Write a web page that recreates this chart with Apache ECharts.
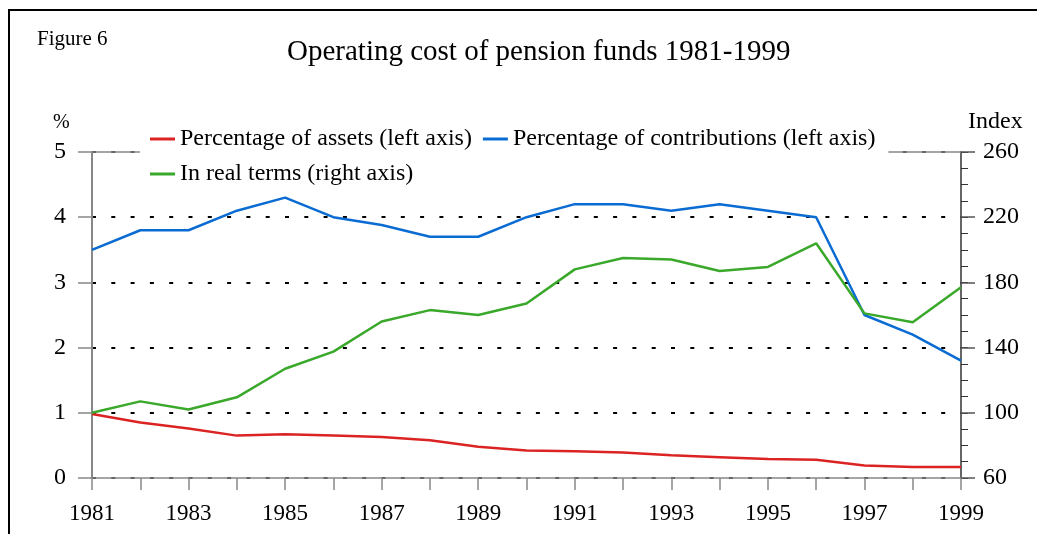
<!DOCTYPE html>
<html>
<head>
<meta charset="utf-8">
<script src="https://cdn.jsdelivr.net/npm/echarts@6/dist/echarts.min.js"></script>
<style>
  html, body { margin: 0; padding: 0; background: #fff; }
  #chart { width: 1037px; height: 534px; }
</style>
</head>
<body>
<div id="chart"></div>
<script>
// years on the x axis
var years = ['1981', '1982', '1983', '1984', '1985', '1986', '1987', '1988', '1989', '1990',
  '1991', '1992', '1993', '1994', '1995', '1996', '1997', '1998', '1999'];
// % of assets (left axis)
var pctAssets = [0.98, 0.85, 0.76, 0.65, 0.67, 0.65, 0.63, 0.58, 0.48, 0.42,
  0.41, 0.39, 0.35, 0.32, 0.29, 0.28, 0.19, 0.17, 0.17];
// % of contributions (left axis)
var pctContrib = [3.5, 3.8, 3.8, 4.1, 4.3, 4.0, 3.88, 3.7, 3.7, 4.0,
  4.2, 4.2, 4.1, 4.2, 4.1, 4.0, 2.5, 2.2, 1.8];
// index, real terms (right axis)
var realIndex = [100, 107, 102, 109.5, 127, 137.5, 156, 163, 160, 167,
  188, 195, 194, 187, 189.5, 204, 161, 155.5, 177];
// right axis tick marks
var indexLabels = [60, 100, 140, 180, 220, 260];
var indexMinor = [];
for (var v = 60; v <= 260; v += 10) indexMinor.push(v);

var font = "'Liberation Serif', 'Times New Roman', serif";

var chart = echarts.init(document.getElementById('chart'));

var option = {
  animation: false,
  textStyle: { fontFamily: font, color: '#000' },
  title: {
    text: 'Operating cost of pension funds 1981-1999',
    left: 282,
    top: 33,
    textStyle: { fontFamily: font, fontSize: 29, fontWeight: 'normal', color: '#000' }
  },
  graphic: [
    {
      type: 'rect', z: -10, silent: true,
      shape: { x: 9, y: 10, width: 1200, height: 700 },
      style: { fill: null, stroke: '#000', lineWidth: 2 }
    },
    { type: 'text', left: 37, top: 29, style: { text: 'Figure 6', font: '21px ' + font, fill: '#000' } },
    { type: 'text', left: 53, top: 113, style: { text: '%', font: '20px ' + font, fill: '#000' } },
    { type: 'text', left: 968, top: 110, style: { text: 'Index', font: '24px ' + font, fill: '#000' } }
  ],
  legend: {
    left: 140,
    top: 125,
    width: 740,
    padding: [2, 13, 6, 10],
    itemGap: 11,
    itemWidth: 25,
    itemHeight: 3,
    icon: 'rect',
    backgroundColor: '#fff',
    z: 20,
    textStyle: { fontFamily: font, fontSize: 24, color: '#000', lineHeight: 24 },
    data: ['Percentage of assets (left axis)', 'Percentage of contributions (left axis)', 'In real terms (right axis)']
  },
  grid: { left: 92, right: 76, top: 152, bottom: 56 },
  xAxis: [
    {
      type: 'category',
      data: years,
      boundaryGap: false,
      axisLine: { lineStyle: { color: '#888', width: 1.5 } },
      axisTick: { show: true, interval: 0, length: 12, lineStyle: { color: '#888', width: 1.5 } },
      axisLabel: { interval: 1, margin: 24, fontSize: 23, fontFamily: font, color: '#000' },
      splitLine: { show: false }
    },
    {
      type: 'category',
      data: years,
      position: 'top',
      boundaryGap: false,
      axisLine: { lineStyle: { color: '#888', width: 1.5 } },
      axisTick: { show: false },
      axisLabel: { show: false },
      splitLine: { show: false }
    }
  ],
  yAxis: [
    {
      type: 'value',
      min: 0, max: 5, interval: 1,
      axisLine: { show: true, lineStyle: { color: '#888', width: 2 } },
      axisTick: { show: true, length: 14, lineStyle: { color: '#888', width: 1.5 } },
      axisLabel: { margin: 26, fontSize: 24, fontFamily: font, color: '#000' },
      splitLine: { show: true, lineStyle: { color: '#000', width: 2, type: [4, 15.3] } }
    },
    {
      type: 'value',
      position: 'right',
      min: 60, max: 260,
      axisLine: { show: true, lineStyle: { color: '#333', width: 1.5 } },
      axisTick: { show: true, customValues: indexMinor, length: 7, lineStyle: { color: '#333', width: 1 } },
      axisLabel: { customValues: indexLabels, margin: 22, fontSize: 24, fontFamily: font, color: '#000' },
      splitLine: { show: false }
    },
    {
      type: 'value',
      position: 'right',
      min: 60, max: 260,
      axisLine: { show: false },
      axisTick: { show: true, customValues: indexLabels, length: 14, lineStyle: { color: '#555', width: 1.5 } },
      axisLabel: { show: false },
      splitLine: { show: false }
    }
  ],
  series: [
    {
      name: 'Percentage of assets (left axis)',
      type: 'line',
      data: pctAssets,
      yAxisIndex: 0,
      symbol: 'none',
      color: '#dc2323',
      lineStyle: { width: 2.5 }
    },
    {
      name: 'Percentage of contributions (left axis)',
      type: 'line',
      data: pctContrib,
      yAxisIndex: 0,
      symbol: 'none',
      color: '#0a6cd2',
      lineStyle: { width: 2.5 }
    },
    {
      name: 'In real terms (right axis)',
      type: 'line',
      data: realIndex,
      yAxisIndex: 1,
      symbol: 'none',
      color: '#3aa82a',
      lineStyle: { width: 2.5 }
    }
  ]
};

chart.setOption(option);
</script>
</body>
</html>
